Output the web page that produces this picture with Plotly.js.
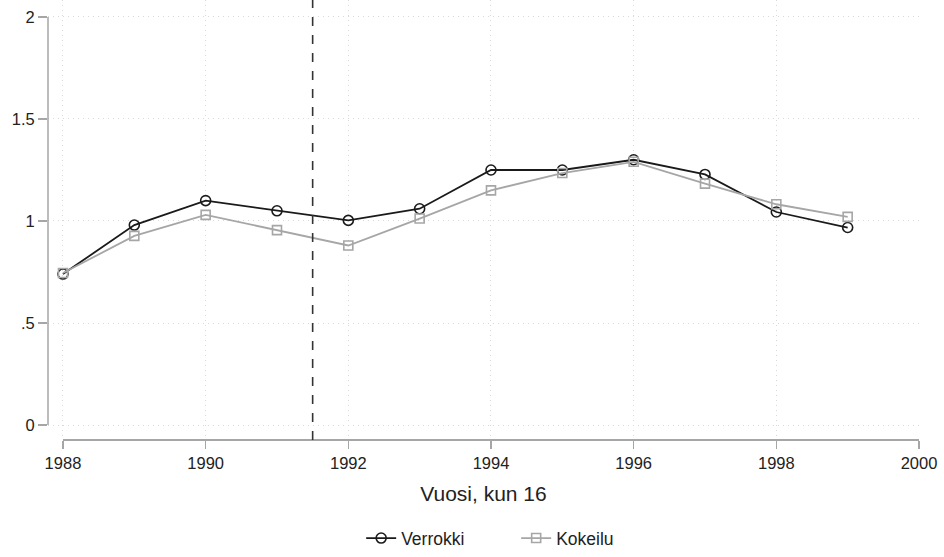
<!DOCTYPE html>
<html>
<head>
<meta charset="utf-8">
<script src="https://cdn.plot.ly/plotly-3.0.1.min.js"></script>
<style>html,body{margin:0;padding:0;background:#fff;}#chart{width:944px;height:557px;}</style>
</head>
<body>
<div id="chart"></div>
<script>
const years = [1988, 1989, 1990, 1991, 1992, 1993, 1994, 1995, 1996, 1997, 1998, 1999];
const verrokki = [0.74, 0.98, 1.10, 1.05, 1.003, 1.06, 1.25, 1.25, 1.30, 1.228, 1.044, 0.968];
const kokeilu  = [0.745, 0.927, 1.03, 0.955, 0.88, 1.012, 1.15, 1.235, 1.29, 1.183, 1.082, 1.02];
const xTicks = [1988, 1990, 1992, 1994, 1996, 1998, 2000];
const yTicks = [0, 0.5, 1, 1.5, 2];
const yTickText = ["0", ".5", "1", "1.5", "2"];
const cutoffYear = 1991.5;

const gray = '#a6a6a6';
const textColor = '#222';
const traces = [
  {x: years, y: verrokki, name: 'Verrokki', type: 'scatter', mode: 'lines+markers',
   line: {color: '#1a1a1a', width: 1.8},
   marker: {symbol: 'circle-open', size: 10, color: '#1a1a1a', line: {width: 1.6}}},
  {x: years, y: kokeilu, name: 'Kokeilu', type: 'scatter', mode: 'lines+markers',
   line: {color: gray, width: 1.8},
   marker: {symbol: 'square-open', size: 9, color: gray, line: {width: 1.6}}}
];

const layout = {
  width: 944, height: 557,
  margin: {l: 48, r: 25, t: 0, b: 117},
  paper_bgcolor: '#fff', plot_bgcolor: '#fff',
  font: {family: 'Liberation Sans, Arial, sans-serif', color: textColor, size: 16.5},
  showlegend: true,
  legend: {orientation: 'h', x: 0.5375, xanchor: 'center', y: -0.264, yanchor: 'bottom',
           font: {size: 17.5, color: textColor}, traceorder: 'normal', itemwidth: 30,
           entrywidth: 110},
  xaxis: {
    range: [1987.79, 2000], tickvals: xTicks, ticktext: xTicks.map(String),
    showline: false, zeroline: false,
    showgrid: true, gridcolor: '#d9d9d9', griddash: '1px,4px', gridwidth: 1,
    ticks: 'outside', ticklen: 8, tickcolor: gray, tickwidth: 1.5,
    tickfont: {size: 16.5, color: textColor},
    title: {text: 'Vuosi, kun 16', font: {size: 21, color: textColor}, standoff: 15}
  },
  yaxis: {
    range: [-0.0733, 2.083], tickvals: yTicks, ticktext: yTickText,
    showline: false, zeroline: false,
    showgrid: true, gridcolor: '#d9d9d9', griddash: '1px,4px', gridwidth: 1,
    ticks: 'outside', ticklen: 9, tickcolor: gray, tickwidth: 1.5,
    tickfont: {size: 16.5, color: textColor}
  },
  shapes: [
    {type: 'line', xref: 'x', yref: 'paper', x0: xTicks[0], x1: xTicks[xTicks.length-1], y0: 0, y1: 0,
     line: {color: gray, width: 2}},
    {type: 'line', xref: 'paper', yref: 'y', x0: 0, x1: 0, y0: yTicks[0], y1: yTicks[yTicks.length-1],
     line: {color: gray, width: 1.5}},
    {type: 'line', xref: 'x', yref: 'paper', x0: cutoffYear, x1: cutoffYear, y0: 0, y1: 1,
     line: {color: '#333', width: 1.6, dash: 'dash'}}
  ]
};

Plotly.newPlot('chart', traces, layout, {displayModeBar: false, staticPlot: true});
</script>
</body>
</html>
